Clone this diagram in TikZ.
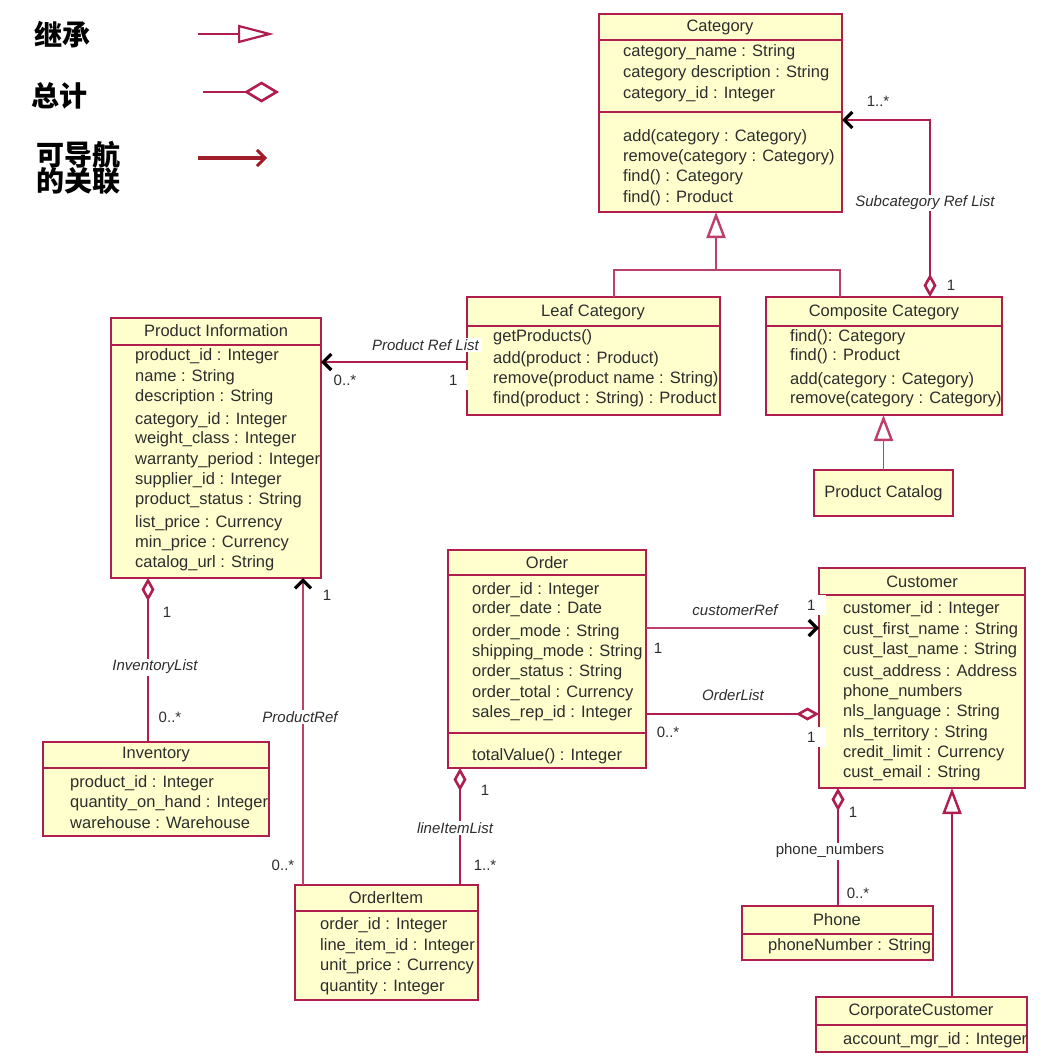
\documentclass[tikz,border=0pt]{standalone}
\usepackage{fontspec}
\setmainfont{Liberation Sans}
\newfontfamily\cjk{Noto Sans CJK SC}
\usetikzlibrary{arrows.meta}
\definecolor{bcol}{RGB}{176,30,78}
\definecolor{fillc}{RGB}{255,255,206}
\definecolor{tcol}{RGB}{45,45,45}
\definecolor{navc}{RGB}{160,28,40}
\tikzset{
  box/.style={draw=bcol, fill=fillc, line width=2.6pt, inner sep=0pt, outer sep=0pt, anchor=north west},
  sepline/.style={draw=bcol, line width=2.6pt},
  txt/.style={anchor=west, inner sep=0pt, text=tcol, font=\fontsize{16.5}{19}\selectfont},
  ttl/.style={anchor=center, inner sep=0pt, text=tcol, font=\fontsize{16.5}{19}\selectfont},
  lbl/.style={inner sep=1.5pt, fill=white, text=tcol, font=\fontsize{15}{18}\selectfont\itshape},
  mult/.style={inner sep=1pt, text=tcol, font=\fontsize{15}{18}\selectfont},
  multw/.style={inner sep=1pt, fill=white, text=tcol, font=\fontsize{15}{18}\selectfont, anchor=west, minimum height=20pt, text width=18pt, align=left},
  assoc/.style={draw=bcol, line width=2.8pt},
  thinline/.style={draw=bcol!85, line width=1.4pt},
  cjklab/.style={anchor=west, inner sep=0pt, text=black, font=\cjk\bfseries\fontsize{28}{31}\selectfont, align=left},
  navtip/.tip={Straight Barb[length=8pt,width=16pt,line width=3.2pt,color=black]},
  aggtip/.tip={Diamond[length=23pt,width=13pt,fill=white,line width=2.6pt]},
  inhtip/.tip={Triangle[length=26pt,width=19pt,fill=white,line width=2.4pt]},
}
\begin{document}
\begin{tikzpicture}[x=1pt,y=-1pt]
\useasboundingbox[fill=white] (0,0) rectangle (1059,1055);

% ---------- legend ----------
\node[cjklab] (lg1) at (34,35) {继承};
\node[cjklab] (lg2) at (31,96) {总计};
\node[cjklab] (lg3) at (36,168) {可导航\\[-5pt]的关联};
\coordinate (l1a) at (198,34); \coordinate (l1b) at (274,34);
\draw[draw=bcol, line width=1.6pt, -{Triangle[length=36pt,width=18pt,fill=white,line width=2.2pt]}] (l1a) -- (l1b);
\coordinate (l2a) at (203,92); \coordinate (l2b) at (279,92);
\draw[draw=bcol, line width=1.6pt, -{Diamond[length=35pt,width=21pt,fill=white,line width=2.6pt]}] (l2a) -- (l2b);
\coordinate (l3a) at (198,158); \coordinate (l3b) at (267,158);
\draw[draw=navc, line width=3.2pt, -{Straight Barb[length=8pt,width=16pt,line width=3pt]}] (l3a) -- (l3b);

% ---------- Category ----------
\node[box, minimum width=243pt, minimum height=198pt] (cat) at (599,14) {};
\draw[sepline] (cat.west |- 0,40) -- (cat.east |- 0,40);
\draw[sepline] (cat.west |- 0,112) -- (cat.east |- 0,112);
\node[ttl] (catT) at (720,27) {Category};
\node[txt] at (623,52) {category\_name : String};
\node[txt] at (623,73) {category description : String};
\node[txt] at (623,94) {category\_id : Integer};
\node[txt] at (623,137) {add(category : Category)};
\node[txt] at (623,157) {remove(category : Category)};
\node[txt] at (623,177) {find() : Category};
\node[txt] at (623,198) {find() : Product};

% ---------- Leaf Category ----------
\node[box, minimum width=253pt, minimum height=118pt] (leaf) at (467,297) {};
\draw[sepline] (leaf.west |- 0,326) -- (leaf.east |- 0,326);
\node[ttl] at (593,312) {Leaf Category};
\node[txt] at (493,337) {getProducts()};
\node[txt] at (493,359) {add(product : Product)};
\node[txt] at (493,379) {remove(product name : String)};
\node[txt] at (493,399) {find(product : String) : Product};

% ---------- Composite Category ----------
\node[box, minimum width=236pt, minimum height=118pt] (comp) at (766,297) {};
\draw[sepline] (comp.west |- 0,326) -- (comp.east |- 0,326);
\node[ttl] at (884,312) {Composite Category};
\node[txt] at (790,337) {find(): Category};
\node[txt] at (790,356) {find() : Product};
\node[txt] at (790,380) {add(category : Category)};
\node[txt] at (790,399) {remove(category : Category)};

% ---------- Product Catalog ----------
\node[box, minimum width=139pt, minimum height=46pt] (pcat) at (814,470) {};
\node[ttl] at (pcat.center) {Product Catalog};

% ---------- Product Information ----------
\node[box, minimum width=210pt, minimum height=260pt] (pinfo) at (111,318) {};
\draw[sepline] (pinfo.west |- 0,345) -- (pinfo.east |- 0,345);
\node[ttl] at (216,331) {Product Information};
\node[txt] at (135,356) {product\_id : Integer};
\node[txt] at (135,377) {name : String};
\node[txt] at (135,397) {description : String};
\node[txt] at (135,420) {category\_id : Integer};
\node[txt] at (135,439) {weight\_class : Integer};
\node[txt] at (135,460) {warranty\_period : Integer};
\node[txt] at (135,480) {supplier\_id : Integer};
\node[txt] at (135,500) {product\_status : String};
\node[txt] at (135,523) {list\_price : Currency};
\node[txt] at (135,543) {min\_price : Currency};
\node[txt] at (135,563) {catalog\_url : String};

% ---------- Inventory ----------
\node[box, minimum width=226pt, minimum height=94pt] (inv) at (43,742) {};
\draw[sepline] (inv.west |- 0,768) -- (inv.east |- 0,768);
\node[ttl] at (156,755) {Inventory};
\node[txt] at (70,783) {product\_id : Integer};
\node[txt] at (70,803) {quantity\_on\_hand : Integer};
\node[txt] at (70,823) {warehouse : Warehouse};

% ---------- Order ----------
\node[box, minimum width=198pt, minimum height=218pt] (order) at (448,550) {};
\draw[sepline] (order.west |- 0,575) -- (order.east |- 0,575);
\draw[sepline] (order.west |- 0,733) -- (order.east |- 0,733);
\node[ttl] at (547,563) {Order};
\node[txt] at (472,590) {order\_id : Integer};
\node[txt] at (472,609) {order\_date : Date};
\node[txt] at (472,632) {order\_mode : String};
\node[txt] at (472,652) {shipping\_mode : String};
\node[txt] at (472,672) {order\_status : String};
\node[txt] at (472,693) {order\_total : Currency};
\node[txt] at (472,713) {sales\_rep\_id : Integer};
\node[txt] at (472,756) {totalValue() : Integer};

% ---------- Customer ----------
\node[box, minimum width=206pt, minimum height=220pt] (cust) at (819,568) {};
\draw[sepline] (cust.west |- 0,595) -- (cust.east |- 0,595);
\node[ttl] at (922,582) {Customer};
\node[txt] at (843,609) {customer\_id : Integer};
\node[txt] at (843,630) {cust\_first\_name : String};
\node[txt] at (843,650) {cust\_last\_name : String};
\node[txt] at (843,672) {cust\_address : Address};
\node[txt] at (843,692) {phone\_numbers};
\node[txt] at (843,712) {nls\_language : String};
\node[txt] at (843,733) {nls\_territory : String};
\node[txt] at (843,753) {credit\_limit : Currency};
\node[txt] at (843,773) {cust\_email : String};

% ---------- OrderItem ----------
\node[box, minimum width=183pt, minimum height=115pt] (oitem) at (295,885) {};
\draw[sepline] (oitem.west |- 0,911) -- (oitem.east |- 0,911);
\node[ttl] at (386,898) {OrderItem};
\node[txt] at (320,925) {order\_id : Integer};
\node[txt] at (320,946) {line\_item\_id : Integer};
\node[txt] at (320,966) {unit\_price : Currency};
\node[txt] at (320,987) {quantity : Integer};

% ---------- Phone ----------
\node[box, minimum width=191pt, minimum height=54pt] (phone) at (742,906) {};
\draw[sepline] (phone.west |- 0,934) -- (phone.east |- 0,934);
\node[ttl] at (837,920) {Phone};
\node[txt] at (768,946) {phoneNumber : String};

% ---------- CorporateCustomer ----------
\node[box, minimum width=211pt, minimum height=55pt] (corp) at (816,997) {};
\draw[sepline] (corp.west |- 0,1025) -- (corp.east |- 0,1025);
\node[ttl] at (921,1011) {CorporateCustomer};
\node[txt] at (843,1040) {account\_mgr\_id : Integer};

% ---------- connectors ----------
\coordinate (jn) at (716,270);
\draw[thinline] (leaf.north -| 614,0) |- (jn) -| (comp.north -| 840,0);
\draw[thinline, -inhtip] (jn) -- (cat.south -| jn);
\draw[thinline, -inhtip] (pcat.north) -- (comp.south -| pcat.north);
\draw[assoc, navtip-aggtip] (cat.east |- 0,120) -| (comp.north -| 930,0);
\draw[assoc, line width=2.4pt, navtip-] (pinfo.east |- 0,362) -- (leaf.west |- 0,362);
\draw[assoc, aggtip-] (pinfo.south -| 148,0) -- (inv.north -| 148,0);
\draw[thinline, navtip-] (pinfo.south -| 303,0) -- (oitem.north -| 303,0);
\draw[thinline, -navtip] (order.east |- 0,628) -- (cust.west |- 0,628);
\draw[assoc, -aggtip] (order.east |- 0,714) -- (cust.west |- 0,714);
\draw[assoc, aggtip-] (order.south -| 460,0) -- (oitem.north -| 460,0);
\draw[assoc, aggtip-] (cust.south -| 838,0) -- (phone.north -| 838,0);
\draw[assoc, line width=2.4pt, -inhtip] (corp.north -| 952,0) -- (cust.south -| 952,0);

% ---------- connector labels ----------
\node[lbl] at (925,203) {Subcategory Ref List};
\node[mult] at (878,101) {1..*};
\node[mult] at (951,285) {1};
\node[lbl, anchor=east, inner xsep=3pt] at (482,345) {Product Ref List};
\node[mult] at (345,380) {0..*};
\node[multw] at (448,380) {1};
\node[lbl] at (155,667) {InventoryList};
\node[mult] at (167,612) {1};
\node[mult] at (170,717) {0..*};
\node[lbl] at (300,717) {ProductRef};
\node[mult] at (327,595) {1};
\node[mult] at (283,865) {0..*};
\node[lbl, fill=none] at (735,610) {customerRef};
\node[mult] at (658,648) {1};
\node[multw] at (806,605) {1};
\node[lbl, fill=none] at (733,695) {OrderList};
\node[mult] at (668,732) {0..*};
\node[multw] at (806,737) {1};
\node[lbl] at (455,828) {lineItemList};
\node[mult] at (485,790) {1};
\node[mult] at (485,865) {1..*};
\node[lbl, font=\fontsize{15}{18}\selectfont] at (830,851) {phone\_numbers};
\node[mult] at (853,812) {1};
\node[mult] at (858,893) {0..*};
\end{tikzpicture}
\end{document}
